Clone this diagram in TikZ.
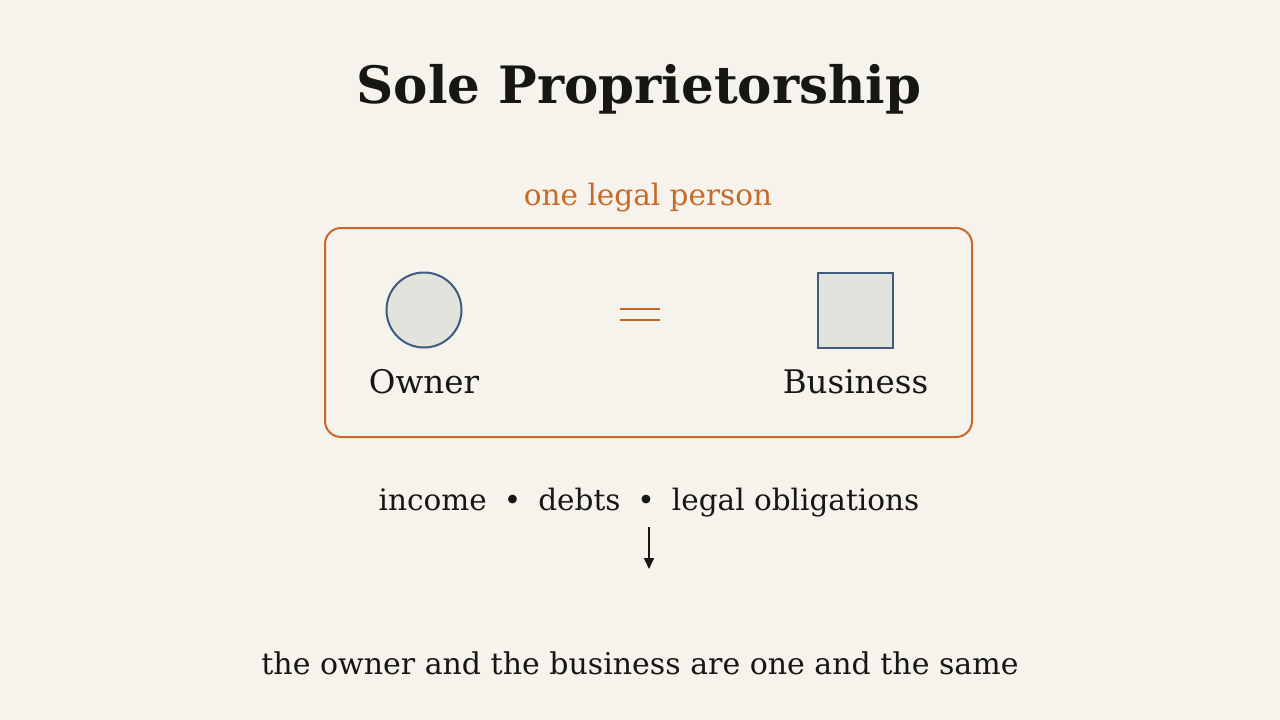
\documentclass[tikz,border=0pt]{standalone}
\usepackage{fontspec}
\setmainfont{DejaVu Serif}
\usetikzlibrary{arrows.meta,positioning}
\definecolor{paper}{HTML}{F5F3EB}
\definecolor{ink}{HTML}{161612}
\definecolor{rust}{HTML}{C8692A}
\definecolor{slate}{HTML}{3F5B82}
\definecolor{pale}{HTML}{E3E3DE}
\newcommand{\sep}{\hspace{17pt}\textbullet\hspace{17pt}}
\tikzset{
    title/.style={font=\fontsize{51.5}{55}\selectfont\bfseries, text=ink, anchor=base},
    label/.style={font=\fontsize{29.5}{33}\selectfont, text=ink, inner sep=0pt, anchor=base},
    biglabel/.style={label, font=\fontsize{32.5}{36}\selectfont},
    entity/.style={draw=slate, fill=pale, line width=2pt, inner sep=0pt},
    bar/.style={rust, line width=2.2pt},
}
\begin{document}
\begin{tikzpicture}[x=1pt,y=-1pt]
    % canvas
    \fill[paper] (0,0) rectangle (1280,720);
    \useasboundingbox (0,0) rectangle (1280,720);
    \node[title] (head) at (639,103) {Sole Proprietorship};
    \node[label, text=rust] (person) at (648,205) {one legal person};
    % the frame round both
    \draw[rust, line width=2pt, rounded corners=16pt] (325,228) rectangle (972,437);
    \node[entity, circle, minimum size=75pt] (owner) at (424,310) {};
    \node[entity, minimum size=75pt] (biz) at (855.5,310.5) {};
    \node[biglabel] (ownerlab) at (424,393) {Owner};
    \node[biglabel] (bizlab) at (855.5,393) {Business};
    % equals sign between them
    \coordinate (same) at (640,314.5);
    \draw[bar] ([shift={(-20,-5.75)}]same) -- ++(40,0);
    \draw[bar] ([shift={(-20,5.75)}]same) -- ++(40,0);
    % what they share
    \node[label] (share) at (649,510) {income\sep debts\sep legal obligations};
    \node[label, font=\fontsize{30}{34}\selectfont] (result) at (640,674) {the owner and the business are one and the same};
    \coordinate (tail) at (649,527);
    \coordinate (tip) at (649,569);
    \draw[ink, line width=1.6pt, -{Triangle[length=11pt,width=10pt]}] (tail) -- (tip);
\end{tikzpicture}
\end{document}
